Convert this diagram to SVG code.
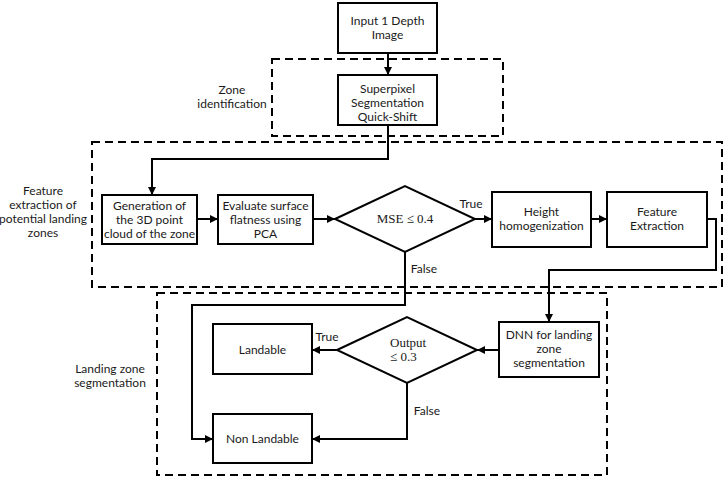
<svg xmlns="http://www.w3.org/2000/svg" width="727" height="481" viewBox="0 0 727 481">
<style>
.box{fill:#fff;stroke:#000;stroke-width:2}
.zone{fill:none;stroke:#000;stroke-width:2;stroke-dasharray:8 5}
.line{fill:none;stroke:#000;stroke-width:2;marker-end:url(#ah)}
text{font-family:Lato,"Liberation Sans",sans-serif;font-size:12px;fill:#1a1a1a;text-anchor:middle}
.math{font-family:"Liberation Serif","DejaVu Serif",serif;font-size:13px}
</style>
<defs>
<marker id="ah" viewBox="0 0 10 10" refX="10" refY="5" markerWidth="4" markerHeight="4" orient="auto" markerUnits="strokeWidth">
<path d="M0,0 L10,5 L0,10 z" fill="#000"/>
</marker>
</defs>
<rect width="727" height="481" fill="#fff"/>
<g id="zones">
<rect class="zone" x="272" y="59" width="231" height="77"/>
<rect class="zone" x="92" y="142" width="630" height="145"/>
<rect class="zone" x="157" y="293" width="450" height="182"/>
<text x="232" y="94">Zone</text>
<text x="232" y="108">identification</text>
<text x="43" y="195">Feature</text>
<text x="43" y="209">extraction of</text>
<text x="43" y="223">potential landing</text>
<text x="43" y="237">zones</text>
<text x="110" y="373">Landing zone</text>
<text x="110" y="387">segmentation</text>
</g>
<g id="connectors">
<path class="line" d="M388,53 V75"/>
<path class="line" d="M388,125 V159 H152 V195"/>
<path class="line" d="M197,219 H218"/>
<path class="line" d="M313,219 H335"/>
<path class="line" d="M475,219 H492"/>
<path class="line" d="M591,219 H607"/>
<path class="line" d="M707,219 H716 V270 H549 V322"/>
<path class="line" d="M499,350 H477"/>
<path class="line" d="M337,350 H312"/>
<path class="line" d="M407,383 V439 H312"/>
<path class="line" d="M405,252 V305 H192 V439 H213"/>
<text x="471" y="208">True</text>
<text x="424" y="273">False</text>
<text x="327" y="341">True</text>
<text x="427" y="415">False</text>
</g>
<g id="input">
<rect class="box" x="338" y="3" width="99" height="50"/>
<text x="387.5" y="25">Input 1 Depth</text>
<text x="387.5" y="39">Image</text>
</g>
<g id="superpixel">
<rect class="box" x="338" y="75" width="99" height="50"/>
<text x="387.5" y="93">Superpixel</text>
<text x="387.5" y="107">Segmentation</text>
<text x="387.5" y="121">Quick-Shift</text>
</g>
<g id="generation">
<rect class="box" x="102" y="195" width="95" height="49"/>
<text x="149.5" y="210">Generation of</text>
<text x="149.5" y="224">the 3D point</text>
<text x="149.5" y="238">cloud of the zone</text>
</g>
<g id="evaluate">
<rect class="box" x="218" y="195" width="95" height="49"/>
<text x="265.5" y="210">Evaluate surface</text>
<text x="265.5" y="224">flatness using</text>
<text x="265.5" y="238">PCA</text>
</g>
<g id="mse">
<path class="box" d="M335,219 L405,186 L475,219 L405,252 Z"/>
<text class="math" x="405" y="223">MSE ≤ 0.4</text>
</g>
<g id="height">
<rect class="box" x="492" y="192" width="99" height="55"/>
<text x="541.5" y="216">Height</text>
<text x="541.5" y="230">homogenization</text>
</g>
<g id="feature">
<rect class="box" x="607" y="192" width="100" height="55"/>
<text x="657" y="216">Feature</text>
<text x="657" y="230">Extraction</text>
</g>
<g id="dnn">
<rect class="box" x="499" y="322" width="100" height="55"/>
<text x="549" y="339">DNN for landing</text>
<text x="549" y="353">zone</text>
<text x="549" y="367">segmentation</text>
</g>
<g id="output">
<path class="box" d="M337,350 L407,317 L477,350 L407,383 Z"/>
<text class="math" x="390" y="347" style="text-anchor:start">Output</text>
<text class="math" x="390" y="361" style="text-anchor:start">≤ 0.3</text>
</g>
<g id="landable">
<rect class="box" x="213" y="324" width="99" height="50"/>
<text x="262.5" y="354">Landable</text>
</g>
<g id="nonlandable">
<rect class="box" x="213" y="414" width="99" height="49"/>
<text x="262.5" y="443">Non Landable</text>
</g>
</svg>
